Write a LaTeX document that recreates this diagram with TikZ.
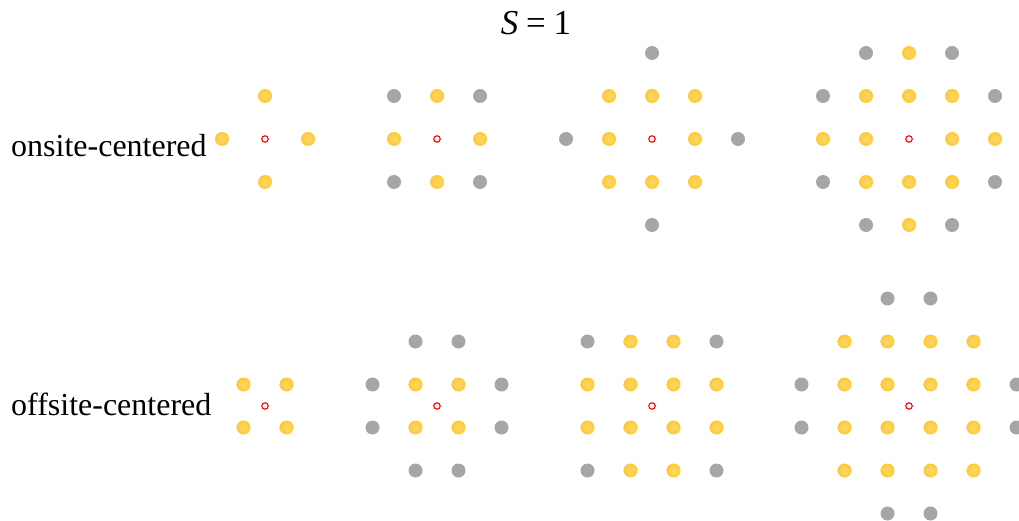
\documentclass[tikz,border=0pt]{standalone}
\usepackage{fontspec}
\setmainfont{Liberation Serif}
\usepackage{xcolor}
\usetikzlibrary{positioning}

\definecolor{dotgray}{RGB}{166,166,166}
\definecolor{dotgold}{RGB}{255,200,55}
\definecolor{dotlight}{RGB}{255,218,105}

\begin{document}
\begin{tikzpicture}[
  x=1pt, y=-1pt,
  gdot/.style={circle, fill=dotgray, minimum size=14pt, inner sep=0pt, outer sep=0pt},
  ydot/.style={circle, inner color=dotlight, outer color=dotgold,
               minimum size=14pt, inner sep=0pt, outer sep=0pt},
  ctr/.style={circle, draw=red, line width=1.1pt, minimum size=6.5pt,
              inner sep=0pt, outer sep=0pt},
  rowname/.style={font=\fontsize{32}{38}\selectfont, anchor=base west, inner sep=0pt},
  ttl/.style={font=\fontsize{35}{40}\selectfont, anchor=base, inner sep=0pt},
]
\useasboundingbox (0,0) rectangle (1019,521);

% --- panel centres and lattice step ---
\def\xA{265}
\def\xB{437}
\def\xC{652}
\def\xD{909}
\def\yOn{139}
\def\yOff{406}
\def\lat{43}
\def\hlat{21.5}

% --- title and row names ---
\node[ttl] (title) at (536,35) {\textit{S}\hspace{0.22em}=\hspace{0.22em}1};
\node[rowname] (lon) at (11,157) {onsite-centered};
\node[rowname] (loff) at (11,415) {offsite-centered};

% =========================================================
% onsite-centered (lattice units)
% =========================================================
% panel A
\foreach \i/\j [count=\k] in {0/-1,-1/0,1/0,0/1}
  \node[ydot] (onAy-\k) at ({\xA+(\i)*\lat},{\yOn+(\j)*\lat}) {};
\node[ctr] (onA) at (\xA,\yOn) {};

% panel B
\foreach \i/\j [count=\k] in {-1/-1,1/-1,-1/1,1/1}
  \node[gdot] (onBg-\k) at ({\xB+(\i)*\lat},{\yOn+(\j)*\lat}) {};
\foreach \i/\j [count=\k] in {0/-1,-1/0,1/0,0/1}
  \node[ydot] (onBy-\k) at ({\xB+(\i)*\lat},{\yOn+(\j)*\lat}) {};
\node[ctr] (onB) at (\xB,\yOn) {};

% panel C
\foreach \i/\j [count=\k] in {0/-2,-2/0,2/0,0/2}
  \node[gdot] (onCg-\k) at ({\xC+(\i)*\lat},{\yOn+(\j)*\lat}) {};
\foreach \i/\j [count=\k] in {-1/-1,0/-1,1/-1,-1/0,1/0,-1/1,0/1,1/1}
  \node[ydot] (onCy-\k) at ({\xC+(\i)*\lat},{\yOn+(\j)*\lat}) {};
\node[ctr] (onC) at (\xC,\yOn) {};

% panel D
\foreach \i/\j [count=\k] in {-1/-2,1/-2,-2/-1,2/-1,-2/1,2/1,-1/2,1/2}
  \node[gdot] (onDg-\k) at ({\xD+(\i)*\lat},{\yOn+(\j)*\lat}) {};
\foreach \i/\j [count=\k] in {0/-2,-1/-1,0/-1,1/-1,-2/0,-1/0,1/0,2/0,-1/1,0/1,1/1,0/2}
  \node[ydot] (onDy-\k) at ({\xD+(\i)*\lat},{\yOn+(\j)*\lat}) {};
\node[ctr] (onD) at (\xD,\yOn) {};

% =========================================================
% offsite-centered (half-lattice units)
% =========================================================
% panel A
\foreach \i/\j [count=\k] in {-1/-1,1/-1,-1/1,1/1}
  \node[ydot] (offAy-\k) at ({\xA+(\i)*\hlat},{\yOff+(\j)*\hlat}) {};
\node[ctr] (offA) at (\xA,\yOff) {};

% panel B
\foreach \i/\j [count=\k] in {-1/-3,1/-3,-3/-1,3/-1,-3/1,3/1,-1/3,1/3}
  \node[gdot] (offBg-\k) at ({\xB+(\i)*\hlat},{\yOff+(\j)*\hlat}) {};
\foreach \i/\j [count=\k] in {-1/-1,1/-1,-1/1,1/1}
  \node[ydot] (offBy-\k) at ({\xB+(\i)*\hlat},{\yOff+(\j)*\hlat}) {};
\node[ctr] (offB) at (\xB,\yOff) {};

% panel C
\foreach \i/\j [count=\k] in {-3/-3,3/-3,-3/3,3/3}
  \node[gdot] (offCg-\k) at ({\xC+(\i)*\hlat},{\yOff+(\j)*\hlat}) {};
\foreach \i/\j [count=\k] in {-1/-3,1/-3,-3/-1,-1/-1,1/-1,3/-1,-3/1,-1/1,1/1,3/1,-1/3,1/3}
  \node[ydot] (offCy-\k) at ({\xC+(\i)*\hlat},{\yOff+(\j)*\hlat}) {};
\node[ctr] (offC) at (\xC,\yOff) {};

% panel D
\foreach \i/\j [count=\k] in {-1/-5,1/-5,-5/-1,5/-1,-5/1,5/1,-1/5,1/5}
  \node[gdot] (offDg-\k) at ({\xD+(\i)*\hlat},{\yOff+(\j)*\hlat}) {};
\foreach \j in {-3,-1,1,3}
  \foreach \i in {-3,-1,1,3}
    \node[ydot] (offDy-\i-\j) at ({\xD+(\i)*\hlat},{\yOff+(\j)*\hlat}) {};
\node[ctr] (offD) at (\xD,\yOff) {};

\end{tikzpicture}
\end{document}
